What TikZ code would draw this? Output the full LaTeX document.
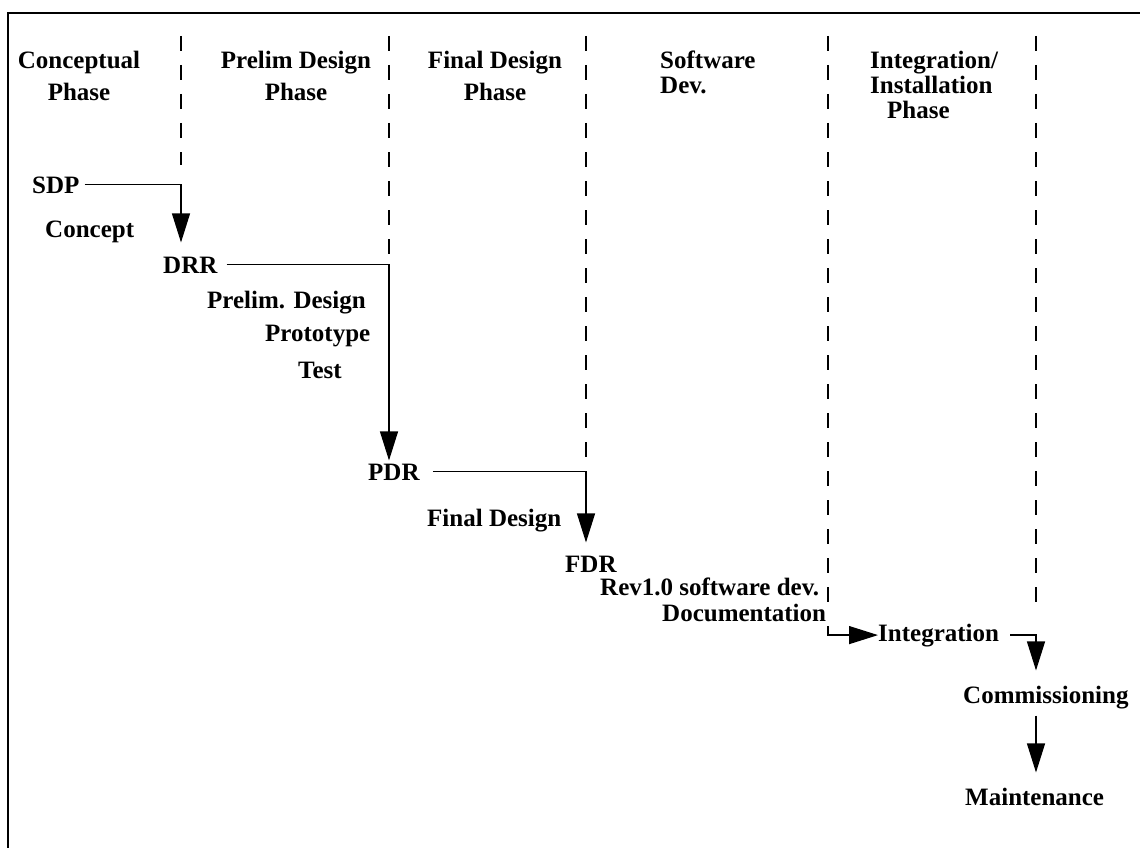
\documentclass[tikz,border=0pt]{standalone}
\usepackage{fontspec}
\setmainfont{Liberation Serif}
\usepackage{tikz}
\usetikzlibrary{calc}
\usetikzlibrary{positioning}
\usetikzlibrary{arrows.meta}

\begin{document}
\begin{tikzpicture}[x=1pt,y=-1pt]
\tikzstyle{lbl}=[inner sep=0,font=\fontsize{25}{25}\selectfont\bfseries]
\tikzstyle{head}=[lbl,align=center,anchor=north]
\tikzstyle{phase}=[line width=1.4pt,dash pattern=on 15pt off 14pt]
\tikzstyle{flow}=[line width=1.2pt,-{Triangle[length=29pt,width=18pt]}]
\useasboundingbox (0,0) rectangle (1140,848);
% frame (top and left only)
\draw[line width=2pt] (1140,13) -- (8,13) -- (8,848);
% phase separators
\foreach \i/\x/\y in {1/181/165, 2/389/258, 3/586/463, 4/828/612, 5/1036/602}
  \draw[phase] (\x,36) coordinate (d\i) -- (\x,\y) coordinate (e\i);
% phase headings
\node[head] (h1) at (79,51) {Conceptual\\[7pt]Phase};
\node[head] (h2) at (296,51) {Prelim Design\\[7pt]Phase};
\node[head] (h3) at (495,51) {Final Design\\[7pt]Phase};
\node[head,align=left,anchor=north west] (h4) at (660,51) {Software\\Dev.};
\node[head,align=left,anchor=north west] (h5) at (870,51) {Integration/\\Installation\\\hspace*{17pt}Phase};
% milestones and tasks
\node[lbl,anchor=base west] (sdp) at (32,193) {SDP};
\node[lbl,anchor=base west] (concept) at (45,237) {Concept};
\node[lbl,anchor=base west] (drr) at (163,273) {DRR};
\node[lbl,anchor=base west] (prelim) at (207,308) {Prelim. Design};
\node[lbl,anchor=base west] (proto) at (265,341) {Prototype};
\node[lbl,anchor=base west] (test) at (298,378) {Test};
\node[lbl,anchor=base west] (pdr) at (368,480) {PDR};
\node[lbl,anchor=base west] (final) at (427,526) {Final Design};
\node[lbl,anchor=base west] (fdr) at (565,572) {FDR};
\node[lbl,anchor=base west] (rev) at (600,595) {Rev1.0 software dev.};
\node[lbl,anchor=base west] (doc) at (662,621) {Documentation};
\node[lbl,anchor=base west] (integ) at (878,641) {Integration};
\node[lbl,anchor=base west] (comm) at (963,703) {Commissioning};
\node[lbl,anchor=base west] (maint) at (965,805) {Maintenance};
\coordinate (k) at (828,626);
% flow
\draw[flow] ([xshift=5pt]sdp.east) -| ([yshift=14pt]drr.north -| d1);
\draw[flow] ([xshift=9pt]drr.east) -| ([yshift=3pt]pdr.north -| d2);
\draw[flow] ([xshift=13pt]pdr.east) -| ([yshift=13pt]fdr.north -| d3);
\draw[flow] (k) |- (integ.west);
\draw[flow] ([xshift=11pt]integ.east) -| ([yshift=15pt]comm.north -| d5);
\draw[flow] ([yshift=-7pt]comm.south -| d5) -- ([yshift=15pt]maint.north -| d5);
\end{tikzpicture}
\end{document}
